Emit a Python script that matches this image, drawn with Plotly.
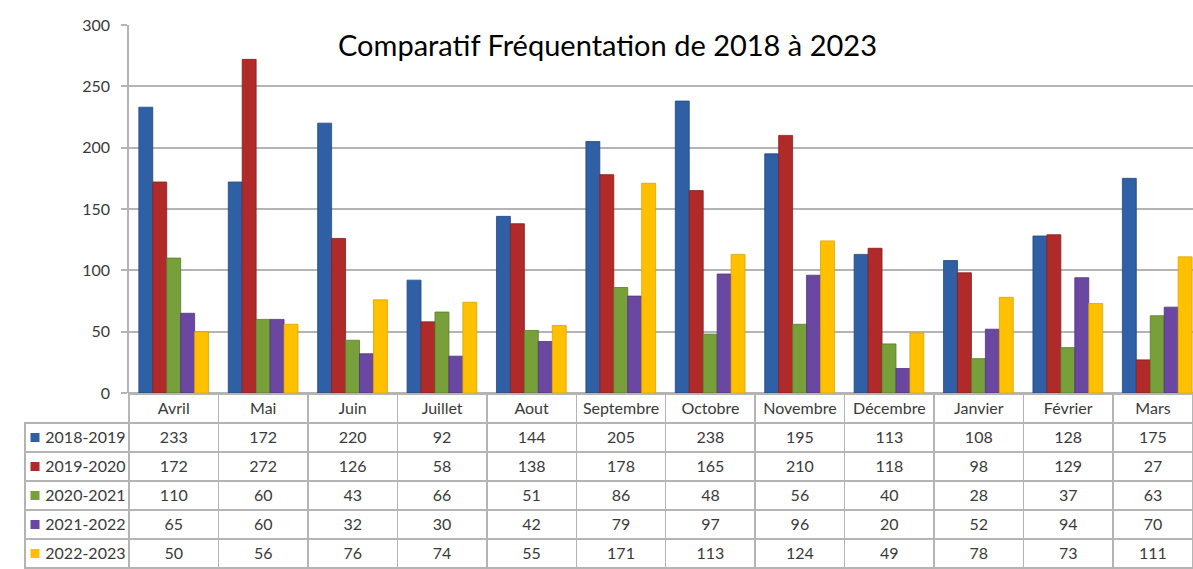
#%%
import plotly.graph_objects as go

#%% data
months = ['Avril', 'Mai', 'Juin', 'Juillet', 'Aout', 'Septembre', 'Octobre',
          'Novembre', 'Décembre', 'Janvier', 'Février', 'Mars']
seasons = ['2018-2019', '2019-2020', '2020-2021', '2021-2022', '2022-2023']
v_2018_2019 = [233, 172, 220, 92, 144, 205, 238, 195, 113, 108, 128, 175]
v_2019_2020 = [172, 272, 126, 58, 138, 178, 165, 210, 118, 98, 129, 27]
v_2020_2021 = [110, 60, 43, 66, 51, 86, 48, 56, 40, 28, 37, 63]
v_2021_2022 = [65, 60, 32, 30, 42, 79, 97, 96, 20, 52, 94, 70]
v_2022_2023 = [50, 56, 76, 74, 55, 171, 113, 124, 49, 78, 73, 111]
values = [v_2018_2019, v_2019_2020, v_2020_2021, v_2021_2022, v_2022_2023]
colors = ['#2f5fa5', '#b02a2a', '#77a03a', '#6a47a0', '#ffc000']
edges = ['#24497f', '#862020', '#5a7a2c', '#50357a', '#d9a300']

W, H = 1193, 569
FONT = 'Lato'
GRID = '#b4b4b4'
TXT = '#3a3a3a'
CLEAR = 'rgba(0,0,0,0)'

#%% bars
fig = go.Figure()
for s, v, c, e in zip(seasons, values, colors, edges):
    fig.add_trace(go.Bar(x=months, y=v, name=s, marker=dict(color=c, line=dict(color=e, width=0.8)),
                         xaxis='x', yaxis='y', showlegend=False))

#%% data table under the bars (rows are 29px: header 394-423, body 423-568)
cols = [seasons] + [[v[i] for v in values] for i in range(len(months))]
fig.add_trace(go.Table(
    domain=dict(x=[25 / W, 1], y=[0, (H - 394) / H]),
    columnwidth=[104] + [89.4] * 11 + [80],
    header=dict(values=[''] + months, height=29, align='center',
                fill_color=CLEAR, line=dict(color=[CLEAR] + [GRID] * 12, width=1.5),
                font=dict(family=FONT, size=16, color=TXT)),
    cells=dict(values=cols, height=29, align=['left'] + ['center'] * 12,
               prefix=['\u00a0\u00a0\u00a0'] + [''] * 12,
               fill_color=CLEAR, line=dict(color=GRID, width=1.5),
               font=dict(family=FONT, size=16, color=TXT)),
))

# legend keys in front of the row labels
fig.add_trace(go.Scatter(x=[0] * len(seasons), y=seasons, mode='markers', xaxis='x2', yaxis='y2',
                         marker=dict(symbol='square', size=9, color=colors), showlegend=False,
                         hoverinfo='skip'))

fig.update_layout(
    width=W, height=H,
    margin=dict(l=0, r=0, t=0, b=0),
    paper_bgcolor='white', plot_bgcolor='rgba(0,0,0,0)',
    barmode='group', bargap=0.22, bargroupgap=0,
    font=dict(family=FONT, size=16, color=TXT),
    xaxis=dict(domain=[129 / W, 1], type='category', range=[-0.5, 11.4], automargin=False,
               showticklabels=False, showgrid=False, showline=False, ticks=''),
    yaxis=dict(domain=[1 - 393 / H, 1 - 25 / H], range=[0, 300], dtick=50, automargin=False,
               showgrid=True, gridcolor=GRID, gridwidth=1.5,
               zeroline=True, zerolinecolor=GRID, zerolinewidth=1.5,
               showline=True, linecolor=GRID, linewidth=1.5,
               ticks='outside', ticklen=6, tickcolor=GRID, tickwidth=1.5, ticklabelstandoff=8,
               tickfont=dict(family=FONT, size=16, color=TXT)),
    xaxis2=dict(domain=[29 / W, 41 / W], range=[-1, 1], visible=False, fixedrange=True),
    yaxis2=dict(domain=[1 / H, 146 / H], type='category', categoryorder='array',
                categoryarray=seasons, range=[4.5, -0.5], visible=False, fixedrange=True),
    annotations=[dict(text='Comparatif Fréquentation de 2018 à 2023', xref='paper', yref='paper',
                      x=607 / W, y=1 - 45 / H, xanchor='center', yanchor='middle', showarrow=False,
                      font=dict(family=FONT, size=29, color='black'))],
)

fig.write_html('out.html', config={'displayModeBar': False},
               post_script="document.body.style.margin='0';")
